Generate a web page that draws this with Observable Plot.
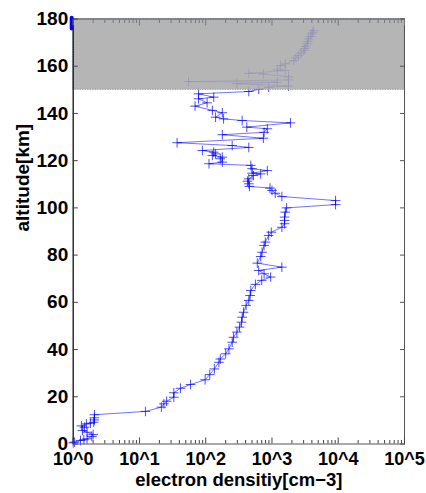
<!DOCTYPE html>
<html>
<head>
<meta charset="utf-8">
<script src="https://cdn.jsdelivr.net/npm/d3@7"></script>
<script src="https://cdn.jsdelivr.net/npm/@observablehq/plot@0.6"></script>
<style>
  html, body { margin: 0; padding: 0; background: #fff; }
  #chart svg { display: block; }
</style>
</head>
<body>
<div id="chart"></div>
<script>
// altitude [km]
const altitude = [
  0.5, 0.8, 1.5, 1.8, 2.2, 3.2, 4.0, 5.0, 5.7, 7.1, 7.7, 8.5, 8.8, 9.2, 10.2, 11.1, 12.4,
  13.8, 15.6, 17.0, 18.1, 19.8, 21.7, 23.6, 25.2, 27.2, 29.4, 31.8, 34.6, 36.0, 38.2, 40.3,
  43.1, 45.2, 47.4, 49.5, 51.6, 53.7, 55.8, 58.7, 60.8, 62.9, 65.0, 67.6, 69.3, 70.7, 72.1,
  73.5, 74.9, 76.6, 79.4, 81.2, 84.1, 85.5, 88.3, 89.7, 91.8, 93.3, 94.7, 96.1, 98.2, 100.0,
  101.4, 103.1, 104.8, 106.2, 107.4, 108.4, 109.1, 110.2, 111.3, 112.3, 113.7, 114.4, 114.7,
  115.8, 116.6, 118.0, 118.7, 119.4, 120.8, 121.5, 122.2, 122.9, 123.6, 124.3, 125.6, 126.4,
  127.6, 129.5, 131.0, 132.0, 133.5, 134.2, 136.0, 137.0, 137.7, 138.4, 140.3, 141.3, 143.1,
  144.5, 146.2, 146.9, 148.3, 149.3, 150.2, 151.1, 151.6, 152.6, 153.2, 153.5, 154.2, 155.5,
  156.7, 157.0, 158.2, 158.4, 160.3, 161.0, 162.4, 163.5, 164.5, 165.6, 166.7, 167.5, 168.4,
  169.5, 170.5, 171.6, 172.6, 173.7, 174.4, 175.1
];
// electron density [cm^-3]
const density = [
  1.0, 1.05, 1.29, 1.45, 1.62, 1.91, 2.0, 1.62, 1.38, 1.48, 1.33, 1.58, 1.82, 2.04, 2.09, 2.09, 2.09,
  12.3, 21.4, 23.4, 25.7, 33, 33, 41.7, 59, 98, 115, 135, 158, 166, 200, 224,
  251, 263, 295, 324, 347, 355, 372, 407, 447, 468, 479, 562, 700, 955, 760,
  630, 1410, 600, 676, 708, 760, 794, 891, 977, 1410, 1550, 1550, 1550, 1585, 1660,
  9120, 9120, 1410, 1120, 1000, 933, 457, 447, 427, 447, 525, 676, 500,
  851, 500, 479, 112, 178, 166, 178, 126, 141, 132, 89, 447, 251,
  37, 741, 178, 760, 851, 417, 1900, 355, 186, 141, 178, 126, 69,
  105, 78, 132, 78, 447, 631, 891, 1780, 295, 1200, 55, 1780, 1780,
  741, 447, 1585, 1200, 1350, 1585, 2140, 2300, 2510, 2750, 3020, 3100, 3240,
  3390, 3470, 3550, 3800, 3980, 4100, 4270
];

// shaded altitude band [km]
const bandBottom = [150];
const bandTop = [180];
// small blue marker at the top-left corner
const cornerMarkAlt = [176, 180.5];

// axis ticks
const xMajorTicks = [1, 10, 100, 1000, 10000, 100000];
const xMajorLabels = ["10^0", "10^1", "10^2", "10^3", "10^4", "10^5"];
const xMinorMultipliers = [2, 3, 4, 5, 6, 7, 8, 9];
const yTicks = [0, 20, 40, 60, 80, 100, 120, 140, 160, 180];

const profile = altitude.map((a, i) => ({alt: a, n: density[i]}));
const band = bandBottom.map((b, i) => ({y1: b, y2: bandTop[i], x1: xMajorTicks[0], x2: xMajorTicks[xMajorTicks.length - 1]}));
const corner = cornerMarkAlt.map(a => ({alt: a, n: xMajorTicks[0]}));
const xMinorTicks = xMajorTicks.slice(0, -1).flatMap(d => xMinorMultipliers.map(m => d * m));
const labelOf = v => xMajorLabels[xMajorTicks.indexOf(v)];

const font = "'Liberation Sans', Arial, sans-serif";

const chart = Plot.plot({
  width: 426,
  height: 493,
  marginLeft: 72.7,
  marginRight: 22,
  marginTop: 18.5,
  marginBottom: 49.5,
  style: {fontFamily: font, background: "#fff", overflow: "visible"},
  x: {type: "log", domain: [1, 1e5], axis: null},
  y: {domain: [0, 180], axis: null},
  marks: [
    // profile line and markers
    Plot.line(profile, {x: "n", y: "alt", stroke: "#0000ff", strokeOpacity: 0.55, strokeWidth: 1}),
    Plot.dot(profile, {x: "n", y: "alt", symbol: "plus", r: 3.2, stroke: "#0000ff", strokeOpacity: 0.7, strokeWidth: 1}),
    // shaded band on top
    Plot.rect(band, {x1: "x1", x2: "x2", y1: "y1", y2: "y2", fill: "#aaaaaa", fillOpacity: 0.87,
      stroke: "#8aa3c4", strokeWidth: 1, strokeDasharray: "1.5,1"}),
    // corner mark
    Plot.line(corner, {x: "n", y: "alt", stroke: "#0000ff", strokeWidth: 4, dx: -1.5}),
    // frame
    Plot.frame({stroke: "#555", strokeWidth: 1}),
    Plot.ruleX([1], {stroke: "#111", strokeWidth: 1}),
    // x ticks (inward), bottom and top
    Plot.axisX(xMajorTicks, {anchor: "bottom", tickSize: -6, fill: "none", stroke: "#444"}),
    Plot.axisX(xMinorTicks, {anchor: "bottom", tickSize: -3.5, fill: "none", stroke: "#444"}),
    Plot.axisX(xMajorTicks, {anchor: "top", tickSize: -6, fill: "none", stroke: "#777"}),
    Plot.axisX(xMinorTicks, {anchor: "top", tickSize: -3.5, fill: "none", stroke: "#777"}),
    Plot.axisX(xMajorTicks, {anchor: "bottom", tickSize: 0, tickPadding: 8, tickFormat: labelOf,
      fontSize: 18, fontWeight: "bold", fill: "#000", label: null}),
    // y ticks (inward), left and right
    Plot.axisY(yTicks, {anchor: "left", tickSize: -5, fill: "none", stroke: "#444"}),
    Plot.axisY(yTicks, {anchor: "right", tickSize: -5, fill: "none", stroke: "#555"}),
    Plot.axisY(yTicks, {anchor: "left", tickSize: 0, tickPadding: 5, fontSize: 19, fontWeight: "bold",
      fill: "#000", label: null}),
    // axis titles
    Plot.text(["electron densitiy[cm\u22123]"], {frameAnchor: "bottom", dy: 42, fontSize: 18.5, fontWeight: "bold", fill: "#000"}),
    Plot.text(["altitude[km]"], {frameAnchor: "left", dx: -50, rotate: -90, fontSize: 19, fontWeight: "bold", fill: "#000"})
  ]
});

document.getElementById("chart").appendChild(chart);
</script>
</body>
</html>
